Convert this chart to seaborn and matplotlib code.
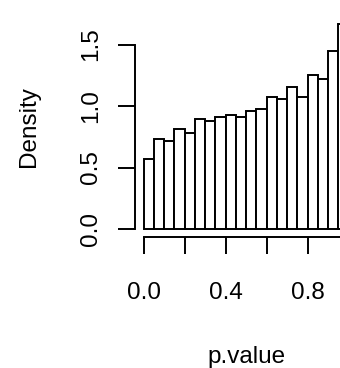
import numpy as np
import pandas as pd
import seaborn as sns
import matplotlib
matplotlib.use("Agg")
import matplotlib.pyplot as plt

# histogram of p-values, 20 bins of width 0.05, heights (density)
bin_edges = [0.0, 0.05, 0.10, 0.15, 0.20, 0.25, 0.30, 0.35, 0.40, 0.45, 0.50,
             0.55, 0.60, 0.65, 0.70, 0.75, 0.80, 0.85, 0.90, 0.95, 1.0]
bin_mids = [0.025, 0.075, 0.125, 0.175, 0.225, 0.275, 0.325, 0.375, 0.425, 0.475,
            0.525, 0.575, 0.625, 0.675, 0.725, 0.775, 0.825, 0.875, 0.925, 0.975]
density = [0.569, 0.734, 0.715, 0.815, 0.783, 0.896, 0.877, 0.910, 0.926, 0.910,
           0.961, 0.978, 1.072, 1.056, 1.154, 1.072, 1.251, 1.219, 1.446, 1.671]
x_ticks = [0.0, 0.2, 0.4, 0.6, 0.8, 1.0]
x_ticklabels = ["0.0", "", "0.4", "", "0.8", ""]
y_ticks = [0.0, 0.5, 1.0, 1.5]
y_ticklabels = ["0.0", "0.5", "1.0", "1.5"]

df = pd.DataFrame({"p.value": bin_mids, "density": density})

sns.set_style("white")
plt.rcParams['font.family'] = ['Liberation Sans', 'DejaVu Sans']

fig = plt.figure(figsize=(3.4, 3.68), dpi=100)
# R-like plot region, running off the right side of the device
ax = fig.add_axes([0.3985, 0.3554, 0.651, 0.603])

sns.histplot(data=df, x="p.value", weights="density", bins=bin_edges, stat="count",
             color="white", edgecolor="black", linewidth=1.4, alpha=1, ax=ax)

# R pads the data range by 4%
ax.set_xlim(-0.04, 1.04)
ymax = max(density)
ax.set_ylim(-0.04 * ymax, 1.04 * ymax)

for s in ["top", "right"]:
    ax.spines[s].set_visible(False)
ax.spines["left"].set_bounds(0, 1.5)
ax.spines["bottom"].set_bounds(0, 1.0)
for s in ["left", "bottom"]:
    ax.spines[s].set_linewidth(1.4)
    ax.spines[s].set_color("black")
    ax.spines[s].set_clip_on(False)

ax.set_xticks(x_ticks)
ax.set_xticklabels(x_ticklabels)
ax.set_yticks(y_ticks)
ax.set_yticklabels(y_ticklabels, rotation=90, va="center")
ax.tick_params(axis="both", direction="out", length=12, width=1.4, color="black",
               labelsize=17.5, labelcolor="black", bottom=True, left=True)
ax.tick_params(axis="x", pad=20)
ax.tick_params(axis="y", pad=12)

ax.set_xlabel("p.value", fontsize=17.5, color="black")
ax.set_ylabel("Density", fontsize=17.5, color="black")
ax.xaxis.set_label_coords(0.5, -0.54)
ax.xaxis.label.set_va("center")
ax.yaxis.set_label_coords(-0.48, 0.5)
ax.yaxis.label.set_va("center")

fig.savefig("out.png", dpi=100, facecolor="white")
